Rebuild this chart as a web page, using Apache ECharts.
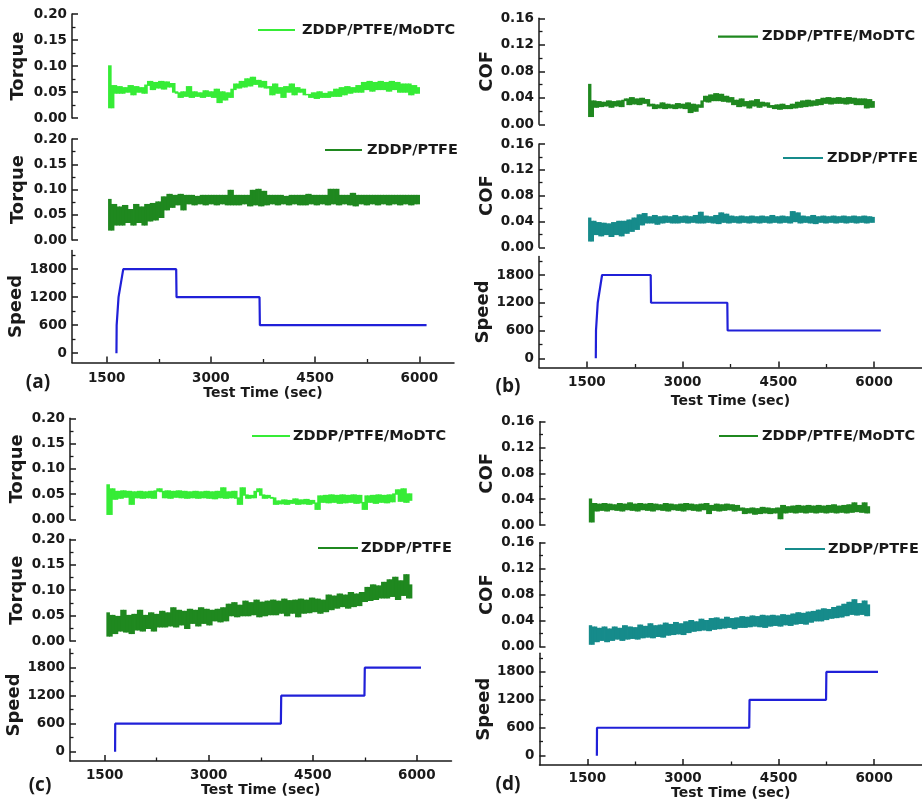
<!DOCTYPE html>
<html><head><meta charset="utf-8">
<script src="https://cdn.jsdelivr.net/npm/echarts@6/dist/echarts.min.js"></script>
<style>html,body{margin:0;padding:0;background:#fff}#c{width:922px;height:806px}</style>
</head><body><div id="c"></div>
<script>
// ---------------- DATA ----------------
const xTitle = 'Test Time (sec)';
const xTickValues = [1500, 3000, 4500, 6000];
const xMinorValues = [2250, 3750, 5250];
const speedTickValues = [0, 600, 1200, 1800];
const speedMinorValues = [300, 900, 1500, 2100];
const seriesNames = ['ZDDP/PTFE/MoDTC', 'ZDDP/PTFE'];

// sampling of the friction records (sec)
const timeStartAB = 1525, timeStepAB = 40;
const timeStartCD = 1530, timeStepCD = 40;

// (a) torque
const torqueA_MoDTC = [0.100,0.020,0.062,0.048,
0.060,0.048,0.058,0.050,0.062,0.045,0.060,0.050,0.058,0.048,0.063,
0.070,0.055,0.068,0.058,0.070,0.056,0.069,0.060,0.066,0.050,
0.048,0.040,0.050,0.042,0.060,0.040,0.050,0.042,0.048,0.040,0.052,0.042,0.050,0.040,0.055,
0.030,0.050,0.035,0.048,0.040,0.055,
0.065,0.058,0.070,0.060,0.075,0.062,0.078,0.065,0.072,0.060,0.070,0.058,
0.060,0.045,0.065,0.048,0.058,0.040,0.060,0.050,0.065,0.045,0.058,0.050,0.055,0.045,
0.045,0.040,0.048,0.038,0.050,0.040,0.047,0.040,0.050,0.042,
0.055,0.042,0.058,0.045,0.060,0.048,0.058,0.050,0.062,0.050,
0.068,0.055,0.070,0.052,0.068,0.055,0.070,0.055,0.068,0.052,0.070,0.055,0.068,0.050,0.065,0.050,
0.065,0.045,0.062,0.048,0.058];
const torqueA_PTFE = [0.080,0.020,0.070,0.030,
0.065,0.030,0.068,0.035,0.060,0.030,0.070,0.035,0.065,0.030,0.070,0.038,0.072,
0.040,0.075,0.045,0.085,0.060,0.090,0.065,
0.088,0.070,0.090,0.060,0.088,0.072,0.088,0.070,0.086,0.072,
0.088,0.070,0.088,0.072,0.088,0.070,0.088,0.072,0.088,0.070,
0.098,0.070,0.088,0.070,0.088,0.072,0.088,0.068,0.098,0.070,
0.100,0.068,0.096,0.070,0.088,0.072,0.088,0.070,0.088,0.072,
0.086,0.070,0.088,0.072,0.088,0.070,0.088,0.070,0.090,0.072,
0.088,0.070,0.088,0.072,0.088,0.070,0.100,0.072,0.100,0.070,
0.088,0.072,0.088,0.070,0.092,0.068,0.088,0.072,0.088,0.070,
0.088,0.072,0.088,0.070,0.088,0.072,0.088,0.070,0.088,0.072,
0.088,0.070,0.088,0.072,0.088,0.070,0.088,0.072,0.088];
// (b) COF
const cofB_MoDTC = [0.060,0.012,0.035,0.026,
0.034,0.027,0.033,0.028,0.035,0.026,0.034,0.028,0.035,0.027,0.036,
0.038,0.030,0.040,0.031,0.038,0.030,0.039,0.032,0.037,0.028,
0.030,0.024,0.029,0.025,0.032,0.024,0.030,0.025,0.029,0.024,0.031,0.025,0.030,0.024,0.032,
0.018,0.030,0.020,0.029,0.026,0.035,
0.042,0.034,0.044,0.036,0.046,0.036,0.045,0.035,0.042,0.034,0.040,0.030,
0.036,0.027,0.038,0.028,0.034,0.025,0.035,0.028,0.037,0.026,0.033,0.028,0.032,0.026,
0.028,0.024,0.029,0.023,0.030,0.024,0.028,0.024,0.030,0.025,
0.033,0.026,0.035,0.027,0.036,0.028,0.035,0.029,0.037,0.030,
0.039,0.032,0.040,0.031,0.039,0.032,0.040,0.032,0.039,0.031,0.040,0.032,0.039,0.030,0.038,0.030,
0.038,0.025,0.037,0.026,0.034];
const cofB_PTFE = [0.045,0.010,0.040,0.020,
0.038,0.018,0.037,0.020,0.036,0.017,0.038,0.020,0.040,0.018,0.040,0.022,0.042,
0.025,0.045,0.028,0.050,0.035,0.052,0.038,
0.047,0.038,0.049,0.036,0.047,0.038,0.048,0.039,0.047,0.038,
0.049,0.038,0.047,0.039,0.048,0.038,0.047,0.039,0.049,0.038,
0.054,0.038,0.048,0.039,0.047,0.038,0.049,0.037,0.053,0.039,
0.051,0.038,0.048,0.039,0.047,0.038,0.048,0.039,0.047,0.038,
0.048,0.039,0.047,0.038,0.048,0.039,0.047,0.038,0.049,0.039,
0.047,0.038,0.048,0.039,0.047,0.038,0.055,0.040,0.053,0.038,
0.048,0.039,0.047,0.038,0.049,0.037,0.047,0.039,0.048,0.038,
0.047,0.039,0.048,0.038,0.047,0.039,0.048,0.038,0.047,0.039,
0.048,0.038,0.047,0.039,0.048,0.038,0.047,0.039,0.046];
// (c) torque
const torqueC_MoDTC = [0.068,0.010,0.060,0.040,
0.055,0.042,0.056,0.044,0.055,0.030,0.054,0.043,0.055,0.042,
0.054,0.043,0.055,0.042,0.056,0.060,0.055,0.043,0.056,0.042,
0.055,0.044,0.056,0.043,0.055,0.042,0.054,0.043,0.055,0.042,
0.054,0.043,0.055,0.042,0.054,0.041,0.055,0.043,0.062,0.042,
0.054,0.043,0.055,0.042,0.030,0.062,0.048,0.042,0.047,0.043,
0.055,0.060,0.048,0.042,0.047,0.043,
0.042,0.030,0.036,0.031,0.038,0.030,0.037,0.032,0.040,0.030,
0.038,0.031,0.039,0.030,0.037,0.032,0.020,0.046,0.034,0.047,
0.033,0.048,0.034,0.047,0.032,0.048,0.033,0.047,0.034,0.048,
0.032,0.047,0.033,0.020,0.046,0.034,0.047,0.032,0.048,0.034,
0.047,0.033,0.048,0.035,0.050,0.058,0.036,0.060,0.034,0.050,
0.038];
const torqueC_PTFE = [0.055,0.010,0.050,0.015,0.048,0.020,0.060,0.018,0.050,0.015,
0.052,0.022,0.060,0.020,0.050,0.025,0.055,0.020,0.052,0.028,
0.058,0.028,0.055,0.030,0.065,0.028,0.060,0.032,0.058,0.025,
0.062,0.035,0.060,0.030,0.065,0.035,0.062,0.032,0.060,0.040,
0.062,0.038,0.065,0.040,0.072,0.050,0.075,0.048,0.070,0.050,
0.078,0.050,0.075,0.052,0.080,0.048,0.076,0.050,0.078,0.052,
0.080,0.052,0.078,0.055,0.082,0.050,0.079,0.055,0.080,0.048,
0.082,0.055,0.080,0.056,0.084,0.058,0.082,0.055,0.080,0.058,
0.090,0.062,0.088,0.065,0.092,0.068,0.090,0.065,0.095,0.068,
0.092,0.070,0.095,0.078,0.105,0.080,0.110,0.082,0.108,0.085,
0.115,0.085,0.120,0.088,0.125,0.082,0.118,0.090,0.130,0.085,0.110];
// (d) COF
const cofD_MoDTC = [0.040,0.005,0.033,0.022,
0.032,0.023,0.033,0.022,0.032,0.024,0.031,0.023,0.033,0.022,
0.032,0.024,0.034,0.023,0.032,0.022,0.033,0.024,0.032,0.023,
0.033,0.022,0.032,0.024,0.031,0.023,0.033,0.022,0.032,0.024,
0.031,0.023,0.032,0.022,0.033,0.024,0.032,0.023,0.031,0.022,
0.032,0.024,0.033,0.018,0.030,0.023,0.032,0.022,0.031,0.023,
0.032,0.024,0.031,0.022,0.030,0.023,
0.026,0.018,0.025,0.019,0.026,0.017,0.025,0.018,0.027,0.019,
0.026,0.018,0.025,0.019,0.026,0.010,0.030,0.019,0.028,0.020,
0.029,0.019,0.030,0.020,0.029,0.019,0.030,0.020,0.029,0.019,
0.030,0.020,0.029,0.019,0.030,0.020,0.031,0.019,0.029,0.020,
0.030,0.019,0.031,0.020,0.034,0.021,0.030,0.020,0.034,0.019,
0.028];
const cofD_PTFE = [0.032,0.004,0.030,0.008,0.028,0.010,0.030,0.008,0.027,0.010,
0.030,0.012,0.028,0.010,0.032,0.012,0.030,0.013,0.029,0.012,
0.033,0.014,0.031,0.015,0.035,0.014,0.032,0.016,0.033,0.015,
0.036,0.018,0.034,0.019,0.037,0.020,0.035,0.019,0.038,0.022,
0.040,0.024,0.038,0.025,0.042,0.026,0.040,0.025,0.043,0.027,
0.044,0.028,0.042,0.029,0.045,0.030,0.043,0.028,0.044,0.030,
0.046,0.030,0.045,0.031,0.047,0.032,0.046,0.031,0.048,0.030,
0.047,0.032,0.048,0.033,0.047,0.032,0.049,0.034,0.048,0.033,
0.050,0.035,0.052,0.036,0.051,0.035,0.053,0.038,0.054,0.040,
0.056,0.040,0.058,0.042,0.057,0.044,0.060,0.045,0.062,0.046,
0.065,0.048,0.068,0.050,0.072,0.049,0.066,0.050,0.070,0.048,0.064];
// speed programmes (time sec, rpm)
const speedAB_time = [1640,1643,1660,1670,1695,1738,2500,2505,3700,3705,6105];
const speedAB_rpm  = [0,600,600,1200,1200,1800,1800,1200,1200,600,600];
const speedCD_time = [1650,1652,4040,4045,5245,5250,6060];
const speedCD_rpm  = [0,600,600,1200,1200,1800,1800];

// ---------------- LAYOUT / STYLE ----------------
const FONT = 'DejaVu Sans';
const AX = '#1a1a1a';
const LIGHT = '#36ec36', DARK = '#1f881f', TEAL = '#168b8b', BLUE = '#2020d8';
const panels = [
  {left:72, width:382, xMin:1000, xMax:6500, yName:'Torque', yMax:0.2, yInt:0.05,
   rows:[[14,104],[139,101],[250.5,112]], vals:[torqueA_MoDTC, torqueA_PTFE], t0:timeStartAB, dt:timeStepAB,
   speedT:speedAB_time, speedV:speedAB_rpm, colors:[LIGHT, DARK], xMargin:8.5, xGap:23, yGap:45,
   legend:[[258,295,30,302],[325,362,150,367]], tag:'(a)', tagPos:[38,383]},
  {left:539, width:383, xMin:750, xMax:6750, yName:'COF', yMax:0.16, yInt:0.04,
   rows:[[18.3,106],[144,103.3],[256.5,111]], vals:[cofB_MoDTC, cofB_PTFE], t0:timeStartAB, dt:timeStepAB,
   speedT:speedAB_time, speedV:speedAB_rpm, colors:[DARK, TEAL], xMargin:8, xGap:27, yGap:43,
   legend:[[718,758,36.7,762],[783,823,158,827]], tag:'(b)', tagPos:[508,387]},
  {left:70, width:381.5, xMin:1000, xMax:6500, yName:'Torque', yMax:0.2, yInt:0.05,
   rows:[[418.3,101],[539.3,101.7],[649,112]], vals:[torqueC_MoDTC, torqueC_PTFE], t0:timeStartCD, dt:timeStepCD,
   speedT:speedCD_time, speedV:speedCD_rpm, colors:[LIGHT, DARK], xMargin:7, xGap:21, yGap:44,
   legend:[[252,290,436,293],[318,358,548,361]], tag:'(c)', tagPos:[40,786]},
  {left:539.5, width:382.5, xMin:750, xMax:6750, yName:'COF', yMax:0.16, yInt:0.04,
   rows:[[421.7,103.3],[542.7,104],[653.3,111.7]], vals:[cofD_MoDTC, cofD_PTFE], t0:timeStartCD, dt:timeStepCD,
   speedT:speedCD_time, speedV:speedCD_rpm, colors:[DARK, TEAL], xMargin:6, xGap:21, yGap:43,
   legend:[[719,758,436,762],[785,825,549,828]], tag:'(d)', tagPos:[508,785]}
];

const lab = (size) => ({fontFamily:FONT, fontWeight:'bold', fontSize:size, color:AX});
const line = (w) => ({color:AX, width:w});
const plain = (v) => String(v);
const option = {animation:false, backgroundColor:'#ffffff', grid:[], xAxis:[], yAxis:[], series:[], graphic:[]};

// A densely sampled record drawn as its trace: between two successive samples the
// trace sweeps every value between them, so each interval is painted as that span.
function traceSpans(t0, dt, vals) {
  const out = [];
  for (let i = 0; i < vals.length - 1; i++) {
    out.push([t0 + i * dt, t0 + (i + 1) * dt, Math.min(vals[i], vals[i + 1]), Math.max(vals[i], vals[i + 1])]);
  }
  return out;
}

panels.forEach(p => {
  p.rows.forEach((row, r) => {
    const gi = option.grid.length;
    option.grid.push({left:p.left, top:row[0], width:p.width, height:row[1], containLabel:false, outerBoundsMode:'none', show:false});
    const isSpeed = (r === 2);
    const xi = option.xAxis.length;
    option.xAxis.push({gridIndex:gi, type:'value', min:p.xMin, max:p.xMax, show:isSpeed, position:'bottom',
      axisLine:{show:true, onZero:false, lineStyle:line(1.5)},
      axisTick:{show:true, inside:true, length:6, lineStyle:line(1.5), customValues:xTickValues},
      axisLabel:Object.assign({show:true, customValues:xTickValues, margin:p.xMargin, formatter:plain}, lab(13.5)),
      splitLine:{show:false},
      name:isSpeed ? xTitle : '', nameLocation:'middle', nameGap:p.xGap, nameTextStyle:lab(14)});
    if (isSpeed) {
      option.xAxis.push({gridIndex:gi, type:'value', min:p.xMin, max:p.xMax, position:'bottom',
        axisLine:{show:false, onZero:false},
        axisTick:{show:true, inside:true, length:3.5, lineStyle:line(1.3), customValues:xMinorValues},
        axisLabel:{show:false}, splitLine:{show:false}});
    }
    const yi = option.yAxis.length;
    if (!isSpeed) {
      option.yAxis.push({gridIndex:gi, type:'value', min:0, max:p.yMax, interval:p.yInt, position:'left',
        axisLine:{show:true, onZero:false, lineStyle:line(1.5)},
        axisTick:{show:true, inside:true, length:6, lineStyle:line(1.5)},
        minorTick:{show:true, splitNumber:2, length:3.5, lineStyle:line(1.3)},
        axisLabel:Object.assign({margin:5, formatter:(v) => v.toFixed(2)}, lab(13.5)),
        splitLine:{show:false},
        name:p.yName, nameLocation:'middle', nameGap:p.yGap, nameTextStyle:lab(18)});
      const color = p.colors[r];
      option.series.push({type:'custom', name:seriesNames[r], coordinateSystem:'cartesian2d',
        xAxisIndex:xi, yAxisIndex:yi, silent:true, z:3,
        encode:{x:[0, 1], y:[2, 3]},
        data:traceSpans(p.t0, p.dt, p.vals[r]),
        renderItem:(params, api) => {
          const a = api.coord([api.value(0), api.value(3)]);
          const b = api.coord([api.value(1), api.value(2)]);
          return {type:'rect', shape:{x:a[0] - 0.4, y:a[1] - 0.7, width:b[0] - a[0] + 0.8, height:b[1] - a[1] + 1.4},
                  style:{fill:color}};
        }});
      const lg = p.legend[r];
      option.graphic.push({type:'line', shape:{x1:lg[0], y1:lg[2], x2:lg[1], y2:lg[2]}, style:{stroke:color, lineWidth:2.2}});
      option.graphic.push({type:'text', x:lg[3], y:lg[2], style:{text:seriesNames[r], fill:AX, font:'bold 14.5px "DejaVu Sans"', align:'left', verticalAlign:'middle'}});
    } else {
      option.yAxis.push({gridIndex:gi, type:'value', min:-200, max:2200, position:'left',
        axisLine:{show:true, onZero:false, lineStyle:line(1.5)},
        axisTick:{show:true, inside:true, length:6, lineStyle:line(1.5), customValues:speedTickValues},
        axisLabel:Object.assign({margin:5, customValues:speedTickValues, formatter:plain}, lab(13.5)),
        splitLine:{show:false},
        name:'Speed', nameLocation:'middle', nameGap:p.yGap, nameTextStyle:lab(18)});
      option.yAxis.push({gridIndex:gi, type:'value', min:-200, max:2200, position:'left',
        axisLine:{show:false, onZero:false},
        axisTick:{show:true, inside:true, length:3.5, lineStyle:line(1.3), customValues:speedMinorValues},
        axisLabel:{show:false}, splitLine:{show:false}});
      option.series.push({type:'line', name:'Speed', xAxisIndex:xi, yAxisIndex:yi, symbol:'none', silent:true,
        data:p.speedT.map((t, i) => [t, p.speedV[i]]),
        lineStyle:{color:BLUE, width:2.2}, z:3});
    }
  });
  option.graphic.push({type:'text', x:p.tagPos[0], y:p.tagPos[1], style:{text:p.tag, fill:AX, font:'bold 19px "Open Sans"', align:'center', verticalAlign:'middle'}});
});

const chart = echarts.init(document.getElementById('c'), null, {renderer:'canvas'});
chart.setOption(option);
</script>
</body></html>
